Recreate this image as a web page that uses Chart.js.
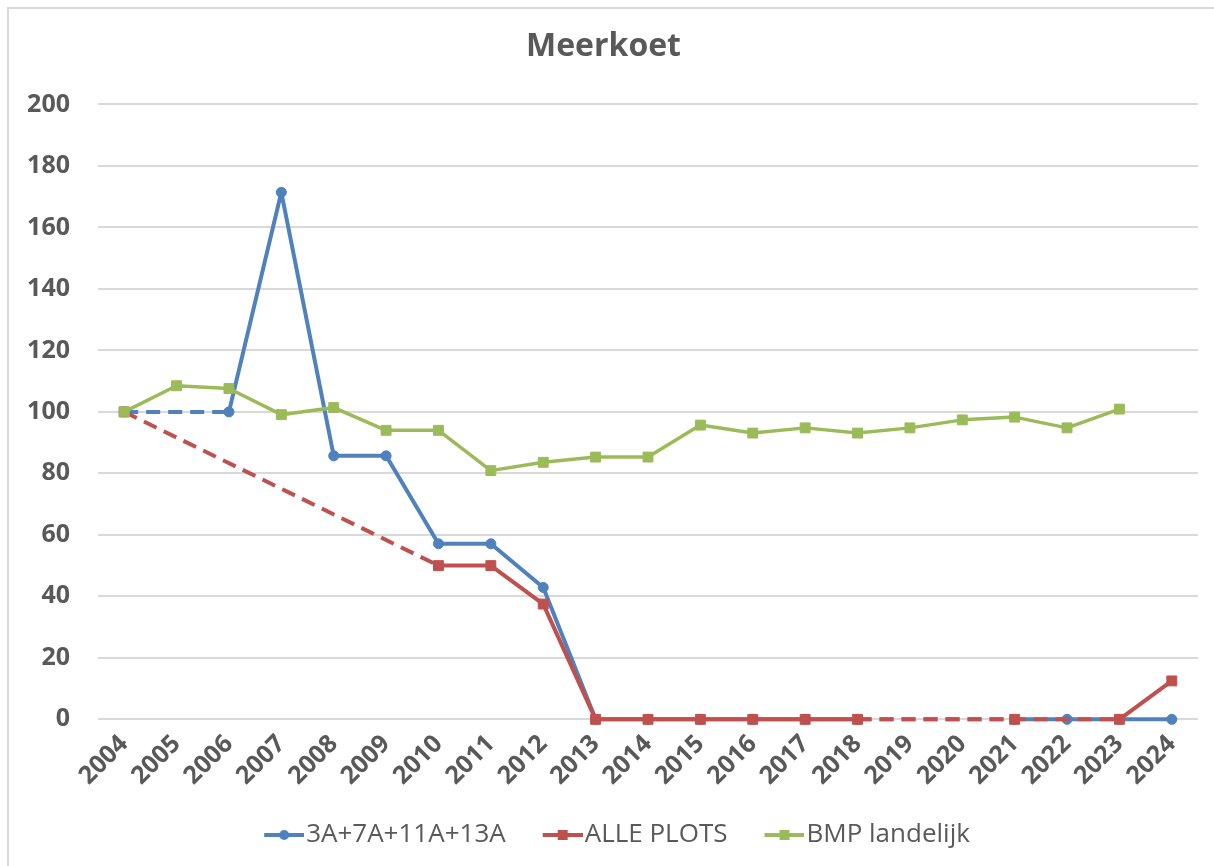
<!DOCTYPE html>
<html>
<head>
<meta charset="utf-8">
<title>Meerkoet</title>
<script src="https://cdn.jsdelivr.net/npm/chart.js@4/dist/chart.umd.min.js"></script>
<style>
  html, body { margin: 0; padding: 0; background: #fff; }
  #wrap { width: 1214px; height: 866px; position: relative; }
</style>
</head>
<body>
<div id="wrap"><canvas id="meerkoetChart"></canvas></div>
<script>
const years = ["2004", "2005", "2006", "2007", "2008", "2009", "2010", "2011", "2012", "2013", "2014",
  "2015", "2016", "2017", "2018", "2019", "2020", "2021", "2022", "2023", "2024"];

// index 2004 = 100, null = geen telling dat jaar
const plots3A7A11A13A = [100, null, 100, 171.4, 85.7, 85.7, 57.1, 57.1, 42.9, 0, 0,
  0, 0, 0, 0, null, null, 0, 0, 0, 0];
const allePlots = [100, null, null, null, null, null, 50, 50, 37.5, 0, 0,
  0, 0, 0, 0, null, null, 0, null, 0, 12.5];
const bmpLandelijk = [100, 108.5, 107.6, 99.1, 101.4, 94, 94, 80.9, 83.6, 85.3, 85.3,
  95.7, 93.1, 94.8, 93.1, 94.8, 97.4, 98.3, 94.8, 100.9, null];

const yTicks = [0, 20, 40, 60, 80, 100, 120, 140, 160, 180, 200];

const BLUE = "#4F81BD";
const RED = "#C0504D";
const GREEN = "#9BBB59";
const TEXT = "#595959";
const FONT = "'Open Sans', 'DejaVu Sans', sans-serif";

// gaps are bridged with a dashed line
const dashGaps = {
  borderDash: ctx => (ctx.p0.skip || ctx.p1.skip) ? [14, 8] : undefined
};

// line + marker icon for the legend; the empty left part is spacing
// between legend items, the line sits against the label text
function legendIcon(color, shape) {
  const c = document.createElement("canvas");
  c.width = 78;
  c.height = 14;
  const g = c.getContext("2d");
  g.strokeStyle = color;
  g.fillStyle = color;
  g.lineWidth = 4;
  g.beginPath();
  g.moveTo(38, 7);
  g.lineTo(78, 7);
  g.stroke();
  if (shape === "circle") {
    g.beginPath();
    g.arc(58, 7, 5, 0, Math.PI * 2);
    g.fill();
  } else {
    g.fillRect(53, 2, 10, 10);
  }
  return c;
}

const chartBorder = {
  id: "chartBorder",
  beforeDraw(chart) {
    const ctx = chart.ctx;
    ctx.save();
    ctx.fillStyle = "#fff";
    ctx.fillRect(0, 0, chart.width, chart.height);
    ctx.strokeStyle = "#d9d9d9";
    ctx.lineWidth = 2;
    ctx.strokeRect(8, 8, chart.width, chart.height);
    ctx.restore();
  }
};

const ctx = document.getElementById("meerkoetChart").getContext("2d");

new Chart(ctx, {
  type: "line",
  data: {
    labels: years,
    datasets: [
      {
        label: "3A+7A+11A+13A",
        data: plots3A7A11A13A,
        borderColor: BLUE,
        backgroundColor: BLUE,
        borderWidth: 4,
        pointStyle: "circle",
        pointRadius: 5,
        pointBorderWidth: 1,
        spanGaps: true,
        segment: dashGaps,
        clip: false,
        order: 2,
        icon: legendIcon(BLUE, "circle")
      },
      {
        label: "ALLE PLOTS",
        data: allePlots,
        borderColor: RED,
        backgroundColor: RED,
        borderWidth: 4,
        pointStyle: "rect",
        pointRadius: 7,
        pointBorderWidth: 1,
        spanGaps: true,
        segment: dashGaps,
        clip: false,
        order: 1,
        icon: legendIcon(RED, "rect")
      },
      {
        label: "BMP landelijk",
        data: bmpLandelijk,
        borderColor: GREEN,
        backgroundColor: GREEN,
        borderWidth: 3.5,
        pointStyle: "rect",
        pointRadius: 7,
        pointBorderWidth: 1,
        spanGaps: false,
        clip: false,
        order: 0,
        icon: legendIcon(GREEN, "rect")
      }
    ]
  },
  options: {
    responsive: true,
    maintainAspectRatio: false,
    animation: false,
    layout: {
      padding: { top: 0, left: 9, right: 16, bottom: 8 }
    },
    elements: {
      line: { tension: 0, borderCapStyle: "butt", borderJoinStyle: "round" }
    },
    plugins: {
      title: {
        display: true,
        text: "Meerkoet",
        color: TEXT,
        font: { family: FONT, size: 32, weight: "bold" },
        padding: { top: 28, bottom: 38 }
      },
      legend: {
        position: "bottom",
        labels: {
          color: TEXT,
          font: { family: FONT, size: 26 },
          usePointStyle: true,
          pointStyleWidth: 56,
          padding: 10,
          generateLabels(chart) {
            // keep legend in dataset order, not in drawing order
            return chart.data.datasets.map((ds, i) => ({
              text: ds.label,
              fillStyle: ds.borderColor,
              strokeStyle: ds.borderColor,
              fontColor: TEXT,
              lineWidth: 0,
              pointStyle: ds.icon,
              hidden: !chart.isDatasetVisible(i),
              datasetIndex: i
            }));
          }
        }
      },
      tooltip: { enabled: false }
    },
    scales: {
      x: {
        offset: true,
        grid: { display: false, drawTicks: false },
        border: { display: false },
        ticks: {
          color: TEXT,
          font: { family: FONT, size: 25, weight: "bold" },
          minRotation: 45,
          maxRotation: 45,
          autoSkip: false,
          padding: 10
        },
        afterFit(scale) {
          // rotated labels may hang left of the plot; extra room below them
          scale.paddingLeft = 0;
          scale.paddingRight = 0;
          scale.height += 11;
        }
      },
      y: {
        min: 0,
        max: 200,
        afterBuildTicks(axis) {
          axis.ticks = yTicks.map(v => ({ value: v }));
        },
        afterFit(scale) {
          scale.width = 89;
        },
        grid: { color: "#d9d9d9", lineWidth: 2, drawTicks: false },
        border: { display: false },
        ticks: {
          color: TEXT,
          font: { family: FONT, size: 25, weight: "bold" },
          padding: 28
        }
      }
    }
  },
  plugins: [chartBorder]
});
</script>
</body>
</html>
